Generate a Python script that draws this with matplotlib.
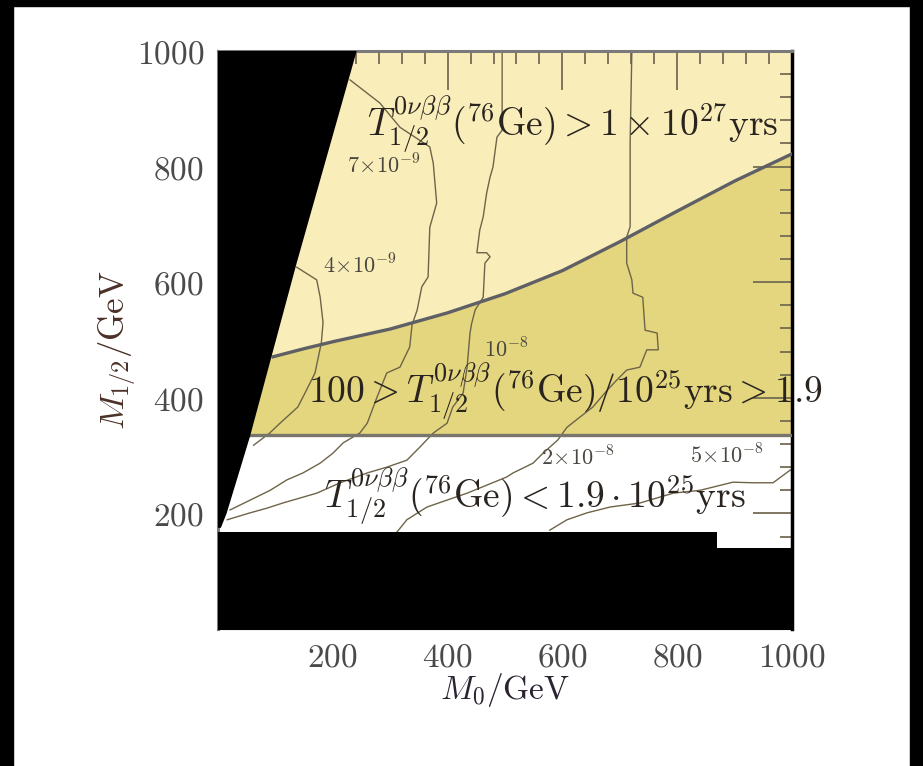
import matplotlib
matplotlib.use("Agg")
import matplotlib.pyplot as plt
from matplotlib.patches import Rectangle, Polygon
from matplotlib.ticker import MultipleLocator, FixedLocator

plt.rcParams['mathtext.fontset'] = 'cm'
plt.rcParams['font.family'] = 'serif'
plt.rcParams['font.serif'] = ['DejaVu Serif']

# ---------------- data (GeV) ----------------
x_ticks = [200, 400, 600, 800, 1000]
y_ticks = [200, 400, 600, 800, 1000]
x_tick_labels = ["200", "400", "600", "800", "1000"]
y_tick_labels = ["200", "400", "600", "800", "1000"]

# upper bound of the 1e27 yrs region (thick grey curve)
curve_x = [96, 150, 200, 300, 400, 500, 600, 700, 800, 900, 1000]
curve_y = [471, 485, 497, 519, 547, 580, 620, 670, 723, 775, 822]
# horizontal bound T = 1.9e25 yrs
bound_y = 335

# excluded (black) regions
wedge_x = [241.6, 137, 55.7, 15, 5]
wedge_y = [1000, 633, 333, 200, 175]
floor_x = [0, 870, 870, 1000]
floor_y = [168, 168, 140, 140]

# contour lines
cA_x = [137, 172, 178, 183, 180, 169, 154, 139, 108, 90, 62]
cA_y = [626, 604, 574, 530, 495, 443, 413, 384, 356, 339, 318]

cB_x = [230, 282, 317, 369, 375, 381, 369, 366, 355, 347, 338, 334, 317, 294, 277,
        260, 247, 218, 200, 178, 148, 120, 91, 56, 21]
cB_y = [950, 910, 868, 834, 806, 737, 695, 609, 592, 552, 526, 488, 453, 443, 401,
        356, 339, 322, 304, 287, 270, 258, 240, 223, 206]

cC_x = [495, 495, 486, 479, 474, 468, 462, 456, 451, 468, 474, 465, 462, 448, 442,
        439, 434, 427, 409, 399, 375, 352, 329, 294, 260, 213, 172, 113, 85, 56, 16]
cC_y = [1000, 863, 851, 799, 782, 754, 713, 690, 651, 651, 644, 633, 574, 552, 529,
        512, 453, 408, 384, 356, 339, 315, 292, 280, 270, 253, 235, 218, 209, 201, 189]

cD_x = [721, 718, 718, 712, 712, 721, 723, 740, 744, 765, 767, 747, 735, 712, 695,
        678, 653, 631, 608, 592, 566, 549, 514, 503, 434, 364, 329, 312]
cD_y = [1000, 841, 696, 678, 633, 604, 581, 574, 517, 512, 483, 483, 453, 448, 431,
        413, 384, 367, 349, 327, 304, 287, 270, 263, 235, 211, 189, 168]

cE_x = [997, 967, 932, 897, 840, 793, 735, 683, 643, 608, 578]
cE_y = [275, 253, 253, 254, 240, 235, 218, 211, 201, 189, 171]

contour_labels = [r"$7\!\times\!10^{-9}$", r"$4\!\times\!10^{-9}$", r"$10^{-8}$",
                  r"$2\!\times\!10^{-8}$", r"$5\!\times\!10^{-8}$"]
contour_label_x = [290, 247, 502, 627, 887]
contour_label_y = [800, 627, 481, 295, 298]

# ---------------- style ----------------
light = "#F9EEBA"
dark = "#E4D67E"
cline = "#6E6448"
text_col = "#2A2420"

fig = plt.figure(figsize=(9.23, 7.66), dpi=100)
# black frame of the screenshot
fig.patches.append(Rectangle((0, 1 - 6 / 766), 1, 6 / 766, transform=fig.transFigure,
                             color="black", zorder=0))
fig.patches.append(Rectangle((0, 0), 13 / 923, 1, transform=fig.transFigure,
                             color="black", zorder=0))
fig.patches.append(Rectangle((910 / 923, 0), 13 / 923, 1, transform=fig.transFigure,
                             color="black", zorder=0))

ax = fig.add_axes([218 / 923, 137 / 766, 574 / 923, 578 / 766])
ax.set_xlim(0, 1000)
ax.set_ylim(0, 1000)
ax.set_facecolor("white")

# coloured regions
ax.axhspan(bound_y, 1000, color=light, lw=0, zorder=1)
ax.fill_between([0] + curve_x, bound_y, [curve_y[0]] + curve_y, color=dark, lw=0, zorder=1)

# contour lines
for cx, cy in [(cA_x, cA_y), (cB_x, cB_y), (cC_x, cC_y), (cD_x, cD_y), (cE_x, cE_y)]:
    ax.plot(cx, cy, color=cline, lw=1.0, zorder=2)

# boundaries
ax.plot(curve_x, curve_y, color="#5F5F66", lw=2.4, zorder=3)
ax.plot([0, 1000], [bound_y, bound_y], color="#77756C", lw=2.4, zorder=3)

# excluded regions
wedge = [(0, 1000)] + list(zip(wedge_x, wedge_y)) + [(0, wedge_y[-1])]
ax.add_patch(Polygon(wedge, closed=True, color="black", lw=0, zorder=4))
ax.fill_between(floor_x, 0, floor_y, color="black", lw=0, zorder=4)

# texts
ax.text(618, 872, r"$T^{0\nu\beta\beta}_{1/2}(^{76}\mathrm{Ge}) > 1\times10^{27}\mathrm{yrs}$",
        fontsize=27, color=text_col, ha="center", va="center", zorder=5)
ax.text(605, 410, r"$100 > T^{0\nu\beta\beta}_{1/2}(^{76}\mathrm{Ge})/10^{25}\mathrm{yrs} > 1.9$",
        fontsize=27, color=text_col, ha="center", va="center", zorder=5)
ax.text(552, 228, r"$T^{0\nu\beta\beta}_{1/2}(^{76}\mathrm{Ge}) < 1.9\cdot10^{25}\mathrm{yrs}$",
        fontsize=27, color=text_col, ha="center", va="center", zorder=5)
for lab, lx, ly in zip(contour_labels, contour_label_x, contour_label_y):
    ax.text(lx, ly, lab, fontsize=16, color="#4A4640", ha="center", va="center", zorder=5)

# axes / ticks
ax.xaxis.set_major_locator(FixedLocator(x_ticks))
ax.yaxis.set_major_locator(FixedLocator(y_ticks))
ax.set_xticklabels(["$%s$" % t for t in x_tick_labels])
ax.set_yticklabels(["$%s$" % t for t in y_tick_labels])
ax.xaxis.set_minor_locator(MultipleLocator(40))
ax.yaxis.set_minor_locator(MultipleLocator(40))
ax.tick_params(which="both", direction="in", top=True, right=True, bottom=False, left=False,
               labelbottom=True, labelleft=True, colors="#756C55", labelcolor="#4A4A4A")
ax.tick_params(which="major", length=28, width=1.3, labelsize=24)
ax.tick_params(axis="x", which="major", pad=9)
ax.tick_params(axis="y", which="major", pad=10)
ax.tick_params(which="minor", length=9, width=1.3)
for side in ["top", "left"]:
    ax.spines[side].set_color("#7A7A7A")
    ax.spines[side].set_linewidth(2.2)
ax.spines["right"].set_color("black")
ax.spines["right"].set_linewidth(2.5)
ax.spines["bottom"].set_color("black")

ax.set_xlabel(r"$M_0/\mathrm{GeV}$", fontsize=24, color="#2B2232", va="center", ha="center")
ax.xaxis.set_label_coords(0.5, -0.1055)
ax.set_ylabel(r"$M_{1/2}/\mathrm{GeV}$", fontsize=25, color="#4A3026", va="center", ha="center")
ax.yaxis.set_label_coords(-0.174, 0.483)

fig.savefig("out.png", dpi=100)
